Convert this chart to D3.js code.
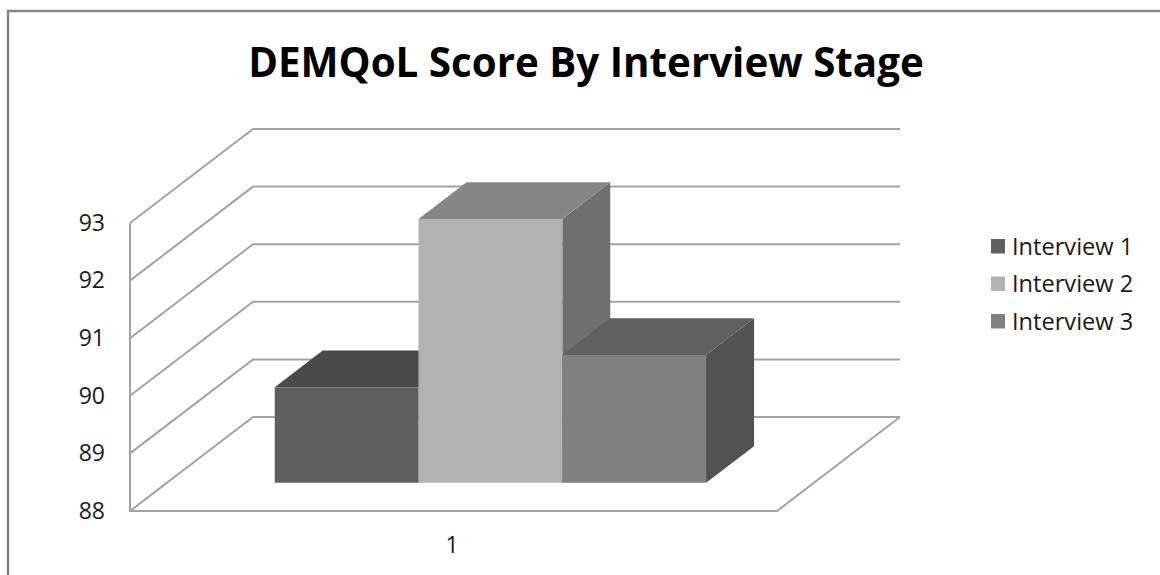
<!DOCTYPE html>
<html>
<head>
<meta charset="utf-8">
<script src="https://cdn.jsdelivr.net/npm/d3@7"></script>
<style>
    html, body { margin: 0; padding: 0; background: #fff; }
    svg { display: block; }
    text { font-family: "Open Sans", sans-serif; fill: #1a1a1a; }
</style>
</head>
<body>
<div id="chart"></div>
<script>
const seriesNames = ["Interview 1", "Interview 2", "Interview 3"];
const seriesValues = [89.66, 92.58, 90.22];
const yTicks = [88, 89, 90, 91, 92, 93];
const categoryLabels = ["1"];
const frontColors = ["#5f5f5f", "#b2b2b2", "#808080"];
const topColors = ["#4a4a4a", "#868686", "#606060"];
const sideColors = ["#3f3f3f", "#6f6f6f", "#525252"];

const width = 1160;
const height = 575;

const GRID_COLOR = "#a3a3a3";
const BORDER_COLOR = "#868686";

// floor front edge runs 130 -> 777, the back wall is shifted by depthX/depthY
const depthX = 123;
const depthY = -94;
const barZ0 = 0.3;
const barZ1 = 0.69;

const x = d3.scaleBand()
    .domain(seriesNames)
    .range([130, 777])
    .paddingInner(0)
    .paddingOuter(0.75);

const y = d3.scaleLinear()
    .domain([88, 93])
    .range([511, 223]);

function project(px, value, z) {
    return [px + depthX * z, y(value) + depthY * z];
}

const polygon = pts => pts.map(p => p.join(",")).join(" ");

const svg = d3.select("#chart")
    .append("svg")
    .attr("width", width)
    .attr("height", height);

// chart frame, only top and left are inside the crop
svg.append("path")
    .attr("d", `M8 ${height}V11H${width}`)
    .attr("fill", "none")
    .attr("stroke", BORDER_COLOR)
    .attr("stroke-width", 2.5);

svg.append("text")
    .attr("x", 586)
    .attr("y", 77)
    .attr("text-anchor", "middle")
    .style("font-size", "40.3px")
    .style("font-weight", 700)
    .style("fill", "#000")
    .text("DEMQoL Score By Interview Stage");

const grid = svg.append("g")
    .attr("fill", "none")
    .attr("stroke", GRID_COLOR)
    .attr("stroke-width", 2);

yTicks.forEach(t => {
    const front = project(130, t, 0);
    const back = project(130, t, 1);
    const backRight = project(777, t, 1);
    grid.append("polyline").attr("points", polygon([front, back, backRight]));
});

grid.append("polyline")
    .attr("points", polygon([project(130, 93, 0), project(130, 88, 0), project(777, 88, 0), project(777, 88, 1)]));

const yAxis = svg.append("g")
    .attr("transform", "translate(105,0)")
    .call(d3.axisLeft(y).tickValues(yTicks).tickSize(0).tickPadding(0).tickFormat(d3.format("d")));
yAxis.select(".domain").remove();
yAxis.selectAll("text")
    .style("font-size", "23px")
    .style("font-family", '"Open Sans", sans-serif');

svg.append("text")
    .attr("x", 452)
    .attr("y", 552.5)
    .attr("text-anchor", "middle")
    .style("font-size", "23px")
    .text(categoryLabels[0]);

const bars = svg.selectAll("g.bar")
    .data(seriesNames)
    .enter()
    .append("g")
    .attr("class", "bar");

bars.each(function(name, i) {
    const g = d3.select(this);
    const left = x(name);
    const right = left + x.bandwidth();
    const value = seriesValues[i];

    g.append("polygon")
        .attr("fill", sideColors[i])
        .attr("points", polygon([
            project(right, 88, barZ0), project(right, value, barZ0),
            project(right, value, barZ1), project(right, 88, barZ1)
        ]));
    g.append("polygon")
        .attr("fill", topColors[i])
        .attr("points", polygon([
            project(left, value, barZ0), project(right, value, barZ0),
            project(right, value, barZ1), project(left, value, barZ1)
        ]));
    g.append("polygon")
        .attr("fill", frontColors[i])
        .attr("points", polygon([
            project(left, 88, barZ0), project(right, 88, barZ0),
            project(right, value, barZ0), project(left, value, barZ0)
        ]));
});

const legend = svg.selectAll("g.legend")
    .data(seriesNames)
    .enter()
    .append("g")
    .attr("class", "legend")
    .attr("transform", (d, i) => `translate(991,${239 + i * 37.5})`);

legend.append("rect")
    .attr("width", 14)
    .attr("height", 14.5)
    .attr("fill", (d, i) => frontColors[i]);

legend.append("text")
    .attr("x", 21)
    .attr("y", 15.5)
    .style("font-size", "23.6px")
    .text(d => d);
</script>
</body>
</html>
